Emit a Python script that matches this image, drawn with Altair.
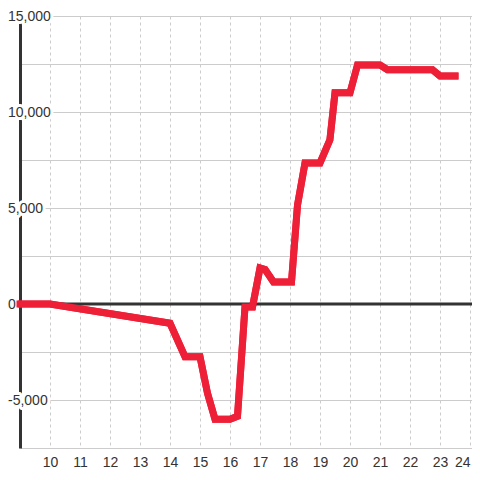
import altair as alt
import pandas as pd

# data
hours = [9, 10, 14, 14.5, 15, 15.25, 15.5, 16, 16.25, 16.5, 16.75, 17, 17.17, 17.45,
         18.05, 18.25, 18.5, 19, 19.33, 19.5, 20, 20.25, 21, 21.25, 22.75, 23, 23.5]
values = [0, 0, -1000, -2750, -2750, -4650, -6000, -6000, -5850, -150, -150, 1875, 1800, 1150,
          1150, 5150, 7350, 7350, 8550, 11000, 11000, 12450, 12450, 12200, 12200, 11875, 11875]

x_ticks = list(range(10, 25))
y_grid = [-7500, -5000, -2500, 0, 2500, 5000, 7500, 10000, 12500, 15000]
y_label_values = [15000, 10000, 5000, 0, -5000]
y_label_text = ["15,000", "10,000", "5,000", "0", "-5,000"]

RED = "#EE2038"
DARK = "#333333"
FONT = "Liberation Sans"

df = pd.DataFrame({"t": hours, "v": values})
df_lab = pd.DataFrame({"v": y_label_values, "label": y_label_text})
df_zero = pd.DataFrame({"v": [0]})

x_enc = alt.X(
    "t:Q",
    scale=alt.Scale(domain=[9, 9 + 452 / 30], nice=False, zero=False),
    axis=alt.Axis(values=x_ticks, grid=True, gridDash=[3, 3], gridColor="#cccccc",
                  gridWidth=1, ticks=False, domain=False, labelFontSize=14,
                  labelColor=DARK, labelFont=FONT, labelPadding=7, title=None,
                  labelFlush=5, labelFlushOffset=0),
)
y_enc = alt.Y(
    "v:Q",
    scale=alt.Scale(domain=[-7500, 15000], nice=False, zero=False),
    axis=alt.Axis(values=y_grid, labels=False, ticks=False, grid=True,
                  gridColor="#cccccc", gridWidth=1, domain=True, domainColor=DARK,
                  domainWidth=3, title=None),
)

zero = alt.Chart(df_zero).mark_rule(color=DARK, strokeWidth=3).encode(y=y_enc)

halo = alt.Chart(df_lab).mark_text(
    align="left", baseline="middle", fontSize=14, font=FONT,
    fill="white", stroke="white", strokeWidth=6, strokeJoin="round", dy=1
).encode(y=y_enc, x=alt.value(-12), text="label:N")

labels = alt.Chart(df_lab).mark_text(
    align="left", baseline="middle", fontSize=14, font=FONT, color=DARK, dy=1
).encode(y=y_enc, x=alt.value(-12), text="label:N")

line = alt.Chart(df).mark_line(
    color=RED, strokeWidth=7, strokeCap="square", strokeJoin="miter"
).encode(x=x_enc, y=y_enc)

chart = alt.layer(line, zero, halo, labels, line).properties(
    width=452, height=432,
    autosize=alt.AutoSizeParams(type="none"),
    padding={"left": 12, "top": 8, "right": 0, "bottom": 24},
    background="white",
).configure_view(stroke=None)

chart.save("out.html", embed_options={"renderer": "svg", "actions": False})
